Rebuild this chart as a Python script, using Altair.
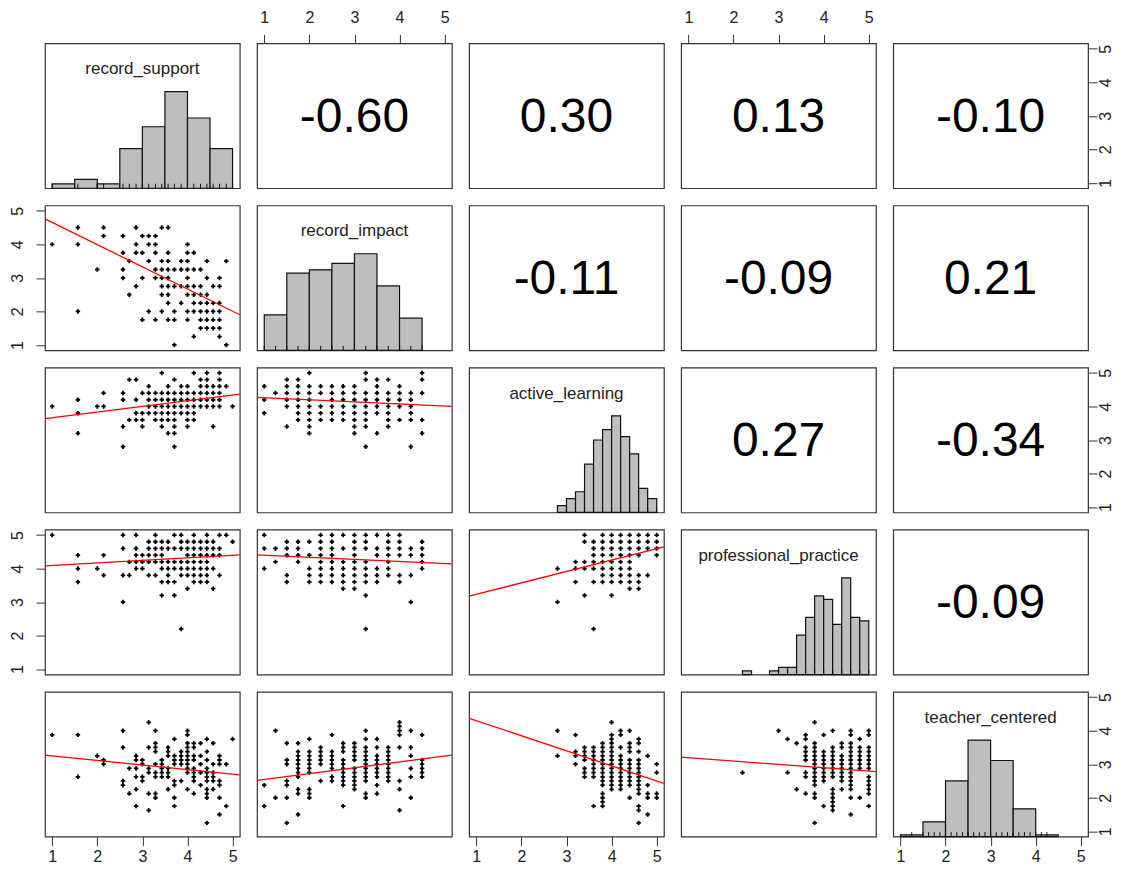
import altair as alt
import pandas as pd

FONT = "Liberation Sans, Arial, sans-serif"
W, H = 195, 145
GAP = 17.25
DOMAIN = [0.84, 5.16]
TICKS = [1, 2, 3, 4, 5]

var_names = ["record_support", "record_impact", "active_learning",
             "professional_practice", "teacher_centered"]

# correlations shown in the upper triangle: (row, col, text)
corr_cells = [(0, 1, "-0.60"), (0, 2, "0.30"), (0, 3, "0.13"), (0, 4, "-0.10"),
              (1, 2, "-0.11"), (1, 3, "-0.09"), (1, 4, "0.21"),
              (2, 3, "0.27"), (2, 4, "-0.34"), (3, 4, "-0.09")]

# histograms on the diagonal
support_breaks = [1.0, 1.5, 2.0, 2.5, 3.0, 3.5, 4.0, 4.5, 5.0]
support_counts = [2, 4, 2, 18, 28, 44, 32, 18]
impact_breaks = [1.0, 1.5, 2.0, 2.5, 3.0, 3.5, 4.0, 4.5]
impact_counts = [11, 24, 25, 27, 30, 20, 10]
active_breaks = [2.8, 3.0, 3.2, 3.4, 3.6, 3.8, 4.0, 4.2, 4.4, 4.6, 4.8, 5.0]
active_counts = [2, 4, 6, 14, 21, 24, 28, 22, 17, 7, 4]
practice_breaks = [2.2, 2.4, 2.6, 2.8, 3.0, 3.2, 3.4, 3.6, 3.8, 4.0, 4.2, 4.4, 4.6, 4.8, 5.0]
practice_counts = [1, 0, 0, 1, 2, 2, 11, 16, 22, 21, 14, 27, 16, 15]
teacher_breaks = [1.0, 1.5, 2.0, 2.5, 3.0, 3.5, 4.0, 4.5]
teacher_counts = [1, 8, 30, 52, 41, 15, 1]

# scatter panels (lower triangle)
# record_impact (key) vs record_support (list)
support_impact = {
    4.50: [1.57, 2.14, 2.86, 3.43, 3.57],
    4.25: [2.14, 2.57, 3.00, 3.14, 3.29],
    4.00: [1.00, 1.57, 2.86, 3.14, 3.29, 4.00],
    3.75: [2.57, 2.86, 3.00, 3.29, 3.57, 4.00, 4.14],
    3.50: [2.71, 3.14, 3.43, 3.57, 3.86, 4.00, 4.43, 4.86],
    3.25: [2.00, 2.57, 3.29, 3.43, 3.57, 3.71, 3.86, 4.00, 4.14, 4.29],
    3.00: [2.57, 3.00, 3.29, 3.43, 3.57, 4.00, 4.43, 4.71],
    2.75: [2.86, 3.43, 3.57, 3.71, 3.86, 4.00, 4.14, 4.29, 4.57, 4.71],
    2.50: [2.71, 3.43, 3.57, 4.00, 4.14, 4.29, 4.43],
    2.25: [3.57, 3.86, 4.14, 4.29, 4.43, 4.57, 4.71],
    2.00: [1.57, 3.14, 3.43, 3.71, 4.00, 4.14, 4.29, 4.43, 4.57, 4.71],
    1.75: [3.00, 3.29, 3.57, 3.71, 4.00, 4.29, 4.43, 4.57, 4.71],
    1.50: [4.29, 4.43, 4.57, 4.71],
    1.25: [4.14, 4.71],
    1.00: [3.71, 4.86],
}
# active_learning (key) vs record_support (list)
support_active = {
    5.0: [3.43, 4.14, 4.43, 4.71],
    4.8: [2.71, 2.86, 3.71, 4.29, 4.43, 4.71],
    4.6: [3.14, 3.57, 3.86, 4.00, 4.29, 4.43, 4.57, 4.71, 4.86],
    4.4: [2.14, 2.57, 3.00, 3.14, 3.29, 3.43, 3.57, 3.71, 3.86, 4.00, 4.14, 4.29, 4.43, 4.57, 4.71],
    4.2: [1.57, 2.57, 2.86, 3.14, 3.29, 3.43, 3.57, 3.71, 3.86, 4.00, 4.14, 4.29, 4.43, 4.57, 4.71],
    4.0: [1.00, 2.00, 2.14, 3.14, 3.29, 3.43, 3.57, 3.71, 3.86, 4.00, 4.14, 4.29, 4.43, 4.57, 4.71, 5.00],
    3.8: [1.57, 2.86, 3.00, 3.14, 3.29, 3.43, 3.57, 3.71, 3.86, 4.00, 4.14],
    3.6: [2.71, 2.86, 3.00, 3.29, 3.43, 3.57, 3.71, 4.00, 4.14],
    3.4: [2.57, 3.00, 3.43, 3.71, 4.00, 4.57],
    3.2: [1.57, 3.57, 3.71],
    2.8: [2.57, 3.71],
}
# record_impact (key) vs active_learning (list)
impact_active = {
    1.00: [4.6, 4.2, 3.8],
    1.25: [4.4],
    1.50: [4.8, 4.6, 4.4, 4.2, 4.0, 3.4],
    1.75: [4.8, 4.6, 4.4, 4.2, 4.0, 3.8, 3.6],
    2.00: [5.0, 4.6, 4.4, 4.2, 4.0, 3.8, 3.6, 3.4, 3.2],
    2.25: [4.6, 4.4, 4.0, 3.8, 3.6],
    2.50: [4.6, 4.4, 4.2, 4.0, 3.8, 3.6],
    2.75: [4.6, 4.4, 4.2, 4.0, 3.8, 3.6],
    3.00: [4.6, 4.4, 4.2, 4.0, 3.8, 3.6, 3.4, 3.2],
    3.25: [5.0, 4.8, 4.4, 4.2, 4.0, 3.8, 3.6, 3.4, 2.8],
    3.50: [4.8, 4.6, 4.4, 4.2, 4.0, 3.8, 3.2],
    3.75: [4.8, 4.4, 4.2, 4.0, 3.8, 3.6, 3.4],
    4.00: [4.6, 4.4, 4.2, 4.0, 3.6],
    4.25: [4.4, 4.2, 4.0, 3.8, 3.6, 2.8],
    4.50: [5.0, 4.8, 4.4, 3.6, 3.2],
}
# professional_practice (key) vs record_support (list)
support_practice = {
    5.0: [1.00, 2.57, 2.86, 3.29, 3.71, 3.86, 4.14, 4.43, 4.71, 4.86],
    4.8: [3.14, 3.29, 3.43, 3.57, 3.86, 4.00, 4.14, 4.29, 4.43, 4.57, 5.00],
    4.6: [2.57, 2.86, 3.14, 3.29, 3.43, 3.57, 3.71, 3.86, 4.00, 4.14, 4.29, 4.43, 4.57, 4.71],
    4.4: [1.57, 2.14, 2.86, 3.00, 3.14, 3.29, 3.43, 4.00, 4.14, 4.29, 4.43, 4.57, 4.71],
    4.2: [2.71, 2.86, 3.00, 3.14, 3.29, 3.43, 3.57, 3.71, 3.86, 4.00, 4.14, 4.29, 4.43],
    4.0: [1.57, 2.00, 2.86, 3.00, 3.43, 3.57, 3.71, 3.86, 4.00, 4.14, 4.29, 4.43, 4.57],
    3.8: [2.14, 2.57, 2.71, 3.14, 3.29, 3.57, 3.86, 4.00, 4.14, 4.29, 4.43, 4.71],
    3.6: [1.57, 3.43, 3.57, 3.71, 4.14, 4.29, 4.43],
    3.4: [4.00, 4.57],
    3.2: [3.43, 3.71],
    3.0: [2.57],
    2.2: [3.86],
}
# record_impact (key) vs professional_practice (list)
impact_practice = {
    1.00: [5.0, 4.6, 4.0],
    1.25: [4.6, 4.2],
    1.50: [4.8, 4.6, 4.4, 3.8, 3.6],
    1.75: [4.8, 4.6, 4.4, 4.2],
    2.00: [4.8, 4.4, 4.0, 3.8, 3.6],
    2.25: [5.0, 4.8, 4.6, 4.4, 4.2, 4.0, 3.8, 3.6],
    2.50: [5.0, 4.8, 4.6, 4.4, 4.2, 4.0, 3.8, 3.6],
    2.75: [5.0, 4.6, 4.2, 4.0, 3.8, 3.6, 3.4],
    3.00: [5.0, 4.8, 4.6, 4.4, 4.2, 4.0, 3.8, 3.6, 3.4],
    3.25: [5.0, 4.8, 4.6, 4.2, 4.0, 3.8, 3.6, 3.2, 2.2],
    3.50: [5.0, 4.6, 4.4, 4.0, 3.8, 3.6],
    3.75: [5.0, 4.8, 4.6, 4.4, 4.2, 4.0, 3.8],
    4.00: [5.0, 4.8, 4.6, 4.4, 3.8, 3.6],
    4.25: [4.6, 4.4, 3.8, 3.0],
    4.50: [4.8, 4.6, 4.4, 4.2, 4.0],
}
# professional_practice (key) vs active_learning (list)
active_practice = {
    5.0: [3.4, 3.8, 4.0, 4.2, 4.4, 4.6, 4.8, 5.0],
    4.8: [3.4, 3.6, 3.8, 4.0, 4.2, 4.4, 4.6, 4.8, 5.0],
    4.6: [3.6, 3.8, 4.0, 4.2, 4.4, 4.6, 4.8, 5.0],
    4.4: [3.6, 3.8, 4.0, 4.2, 4.4, 4.6, 5.0],
    4.2: [3.2, 3.4, 3.6, 3.8, 4.0, 4.2, 4.4],
    4.0: [2.8, 3.2, 3.4, 3.6, 3.8, 4.0, 4.2, 4.4],
    3.8: [3.8, 4.0, 4.2, 4.4, 4.6, 4.8],
    3.6: [3.2, 3.6, 3.8, 4.0, 4.2, 4.4, 4.6],
    3.4: [4.4, 4.6],
    3.2: [3.4, 4.0],
    3.0: [2.8],
    2.2: [3.6],
}
# record_support (key) vs teacher_centered (list)
support_teacher = {
    1.00: [3.875],
    1.57: [3.875, 2.625],
    2.00: [3.25],
    2.14: [3.125, 3.0],
    2.57: [4.0, 3.5, 2.5, 2.375],
    2.71: [2.875, 2.125],
    2.86: [3.25, 3.125, 2.875, 2.625, 2.25, 1.75],
    3.00: [3.125, 3.0, 2.625, 2.5],
    3.14: [4.25, 3.5, 2.875, 2.75, 2.125, 1.625],
    3.29: [4.0, 3.625, 3.5, 3.375, 3.0, 2.75, 2.625, 2.125, 2.0],
    3.43: [3.125, 3.0, 2.875, 2.75, 2.625],
    3.57: [3.5, 3.375, 3.25, 2.875, 2.75, 2.625, 2.25],
    3.71: [3.75, 3.25, 3.125, 3.0, 2.5, 2.375, 2.0, 1.75],
    3.86: [3.375, 3.25, 3.125, 3.0, 2.5],
    4.00: [4.0, 3.875, 3.625, 3.5, 3.375, 3.25, 3.125, 3.0, 2.875, 2.75, 2.25],
    4.14: [3.625, 3.5, 3.25, 3.125, 2.875, 2.75, 2.625, 2.5, 2.125],
    4.29: [3.625, 3.25, 3.0, 2.75, 2.375],
    4.43: [3.75, 3.375, 3.125, 2.875, 2.75, 2.625, 2.5, 2.25, 2.125, 2.0, 1.25],
    4.57: [3.625, 3.0, 2.75, 2.625, 2.5, 2.25],
    4.71: [3.25, 3.125, 3.0, 2.5, 2.375, 2.0, 1.5],
    4.86: [3.0, 1.75],
    5.00: [3.75],
}
# record_impact (key) vs teacher_centered (list)
impact_teacher = {
    1.00: [2.375, 1.75],
    1.25: [4.0, 2.0],
    1.50: [3.625, 3.125, 3.0, 2.5, 2.375, 2.0, 1.25],
    1.75: [3.625, 3.375, 3.25, 3.125, 3.0, 2.875, 2.75, 2.625, 2.25, 2.125, 1.5],
    2.00: [3.75, 3.375, 3.25, 3.125, 3.0, 2.875, 2.75, 2.25, 2.125, 2.0],
    2.25: [3.5, 3.375, 3.25, 3.125, 3.0, 2.5],
    2.50: [3.875, 3.375, 3.25, 3.125, 3.0, 2.875, 2.625, 2.5],
    2.75: [3.625, 3.5, 3.375, 3.125, 3.0, 2.875, 2.75, 2.625, 2.5, 2.375, 1.75],
    3.00: [3.625, 3.5, 3.375, 3.25, 3.125, 2.875, 2.75, 2.625, 2.5, 2.375, 2.25],
    3.25: [4.0, 3.75, 3.5, 3.375, 3.25, 3.125, 3.0, 2.875, 2.75, 2.625, 2.5, 2.125, 2.0],
    3.50: [3.75, 3.5, 3.25, 3.125, 3.0, 2.875, 2.75, 2.625, 2.375, 2.125],
    3.75: [3.5, 3.375, 3.25, 3.125, 3.0, 2.875, 2.75, 2.625, 2.5],
    4.00: [4.25, 4.125, 4.0, 3.875, 3.5, 2.5, 2.25, 1.625],
    4.25: [4.0, 3.5, 3.25, 2.875, 2.625, 2.0],
    4.50: [3.875, 3.125, 3.0, 2.875, 2.75, 2.625],
}
# active_learning (key) vs teacher_centered (list)
active_teacher = {
    2.8: [4.0, 3.25],
    3.2: [3.875, 3.375, 3.25, 3.0],
    3.4: [3.5, 3.375, 3.25, 3.125, 2.875, 2.75, 2.625],
    3.6: [3.5, 3.375, 3.25, 3.125, 3.0, 2.875, 2.75, 2.625, 1.75],
    3.8: [3.625, 3.5, 3.375, 3.25, 3.125, 3.0, 2.875, 2.75, 2.625, 2.5, 2.375, 2.125, 2.0, 1.875, 1.75],
    4.0: [4.25, 3.875, 3.75, 3.625, 3.5, 3.375, 3.25, 3.125, 3.0, 2.875, 2.75, 2.625, 2.5, 2.375, 2.25],
    4.2: [4.0, 3.875, 3.5, 3.25, 3.125, 3.0, 2.875, 2.75, 2.625, 2.5, 2.375, 2.25],
    4.4: [4.0, 3.625, 3.5, 3.375, 3.125, 3.0, 2.875, 2.75, 2.625, 2.5, 2.375, 2.0],
    4.6: [3.75, 3.625, 3.375, 3.125, 3.0, 2.875, 2.75, 2.625, 2.5, 2.375, 2.25, 2.125, 1.75, 1.625, 1.25],
    4.8: [3.25, 2.375, 2.125, 2.0, 1.5],
    5.0: [3.0, 2.75, 2.125, 2.0],
}
# professional_practice (key) vs teacher_centered (list)
practice_teacher = {
    2.2: [2.75],
    3.0: [4.0],
    3.2: [3.75, 2.75],
    3.4: [3.625, 2.25],
    3.6: [3.875, 3.75, 3.5, 3.375, 3.25, 3.125, 2.75, 2.625, 2.125],
    3.8: [4.25, 3.625, 3.5, 3.375, 3.25, 3.125, 3.0, 2.875, 2.75, 2.625, 2.5, 2.375, 2.125, 2.0, 1.25],
    4.0: [3.875, 3.375, 3.25, 3.125, 3.0, 2.875, 2.75, 2.625, 2.5, 1.75],
    4.2: [4.0, 3.5, 3.375, 3.25, 3.125, 3.0, 2.875, 2.75, 2.625, 2.25, 2.125, 2.0, 1.875, 1.75, 1.625],
    4.4: [3.625, 3.5, 3.25, 3.125, 3.0, 2.875, 2.75, 2.625, 2.5, 2.25],
    4.6: [4.0, 3.875, 3.625, 3.5, 3.375, 3.25, 3.125, 3.0, 2.875, 2.75, 2.625, 2.5, 2.375, 2.25, 2.0, 1.5],
    4.8: [3.75, 3.5, 3.375, 3.25, 3.125, 3.0, 2.875, 2.0],
    5.0: [4.0, 3.875, 3.5, 3.375, 3.25, 3.125, 3.0, 2.875, 2.625, 2.5, 2.375, 2.25, 2.125, 1.75],
}

# fitted (lm) lines: y at the left and right edges of each panel
fit_left_x, fit_right_x = 0.84, 5.16
fit_lines = {
    (1, 0): (4.76, 1.90),
    (2, 0): (3.64, 4.37),
    (2, 1): (4.27, 4.00),
    (3, 0): (4.08, 4.41),
    (3, 1): (4.41, 4.14),
    (3, 2): (3.18, 4.65),
    (4, 0): (3.27, 2.68),
    (4, 1): (2.52, 3.27),
    (4, 2): (4.37, 2.43),
    (4, 3): (3.21, 2.78),
}


def from_y_key(d):
    return pd.DataFrame([{"x": x, "y": y} for y, xs in d.items() for x in xs])


def from_x_key(d):
    return pd.DataFrame([{"x": x, "y": y} for x, ys in d.items() for y in ys])


scatter = {
    (1, 0): from_y_key(support_impact),
    (2, 0): from_y_key(support_active),
    (2, 1): from_x_key(impact_active),
    (3, 0): from_y_key(support_practice),
    (3, 1): from_x_key(impact_practice),
    (3, 2): from_y_key(active_practice),
    (4, 0): from_x_key(support_teacher),
    (4, 1): from_x_key(impact_teacher),
    (4, 2): from_x_key(active_teacher),
    (4, 3): from_x_key(practice_teacher),
}

hist = {
    0: (support_breaks, support_counts),
    1: (impact_breaks, impact_counts),
    2: (active_breaks, active_counts),
    3: (practice_breaks, practice_counts),
    4: (teacher_breaks, teacher_counts),
}

# rug values: the distinct values of each variable seen in the scatter panels
rug_values = {i: set() for i in range(5)}
for (r, c), df in scatter.items():
    rug_values[c].update(df["x"].tolist())
    rug_values[r].update(df["y"].tolist())

AX = dict(values=TICKS, tickSize=9, tickColor="#333", tickWidth=1, domain=False, grid=False,
          labelFont=FONT, labelFontSize=16, labelColor="#222", labelFlush=False,
          labelOverlap=False, labelAlign="center", labelBaseline="middle", title=None)


def make_axis(orient):
    if orient == "top":
        return alt.Axis(orient="top", labelAngle=0, labelPadding=17, **AX)
    if orient == "bottom":
        return alt.Axis(orient="bottom", labelAngle=0, labelPadding=11, **AX)
    if orient == "left":
        return alt.Axis(orient="left", labelAngle=-90, labelPadding=18, **AX)
    return alt.Axis(orient="right", labelAngle=-90, labelPadding=8, **AX)


x_axes = {(0, 1): "top", (0, 3): "top", (4, 0): "bottom", (4, 2): "bottom", (4, 4): "bottom"}
y_axes = {(1, 0): "left", (3, 0): "left", (0, 4): "right", (2, 4): "right", (4, 4): "right"}

ticks_df = pd.DataFrame({"t": TICKS})


def sc():
    return alt.Scale(domain=DOMAIN, nice=False, zero=False)


panels = []
for r in range(5):
    for c in range(5):
        layers = []
        xa = make_axis(x_axes[(r, c)]) if (r, c) in x_axes else None
        ya = make_axis(y_axes[(r, c)]) if (r, c) in y_axes else None
        if xa is not None or ya is not None:
            layers.append(
                alt.Chart(ticks_df).mark_point(opacity=0).encode(
                    x=alt.X("t:Q", scale=sc(), axis=xa),
                    y=alt.Y("t:Q", scale=sc(), axis=ya),
                )
            )
        if r == c:
            breaks, counts = hist[r]
            hdf = pd.DataFrame({"start": breaks[:-1], "end": breaks[1:], "count": counts})
            hdf = hdf[hdf["count"] > 0]
            bars = alt.Chart(hdf).transform_joinaggregate(
                maxc="max(count)"
            ).transform_calculate(
                h="datum.count / datum.maxc"
            ).mark_rect(fill="#BEBEBE", stroke="#111", strokeWidth=1.2).encode(
                x=alt.X("start:Q", scale=sc(), axis=None),
                x2="end:Q",
                y=alt.Y("h:Q", scale=alt.Scale(domain=[0, 1.5], nice=False, zero=True), axis=None),
                y2=alt.datum(0),
            )
            rug = alt.Chart(pd.DataFrame({"v": sorted(rug_values[r])})).mark_rule(
                color="#111", strokeWidth=1
            ).encode(
                x=alt.X("v:Q", scale=sc(), axis=None),
                y=alt.value(H),
                y2=alt.value(H - 4.5),
            )
            label = alt.Chart(pd.DataFrame({"name": [var_names[r]]})).mark_text(
                font=FONT, fontSize=17, color="#222", baseline="middle", align="center"
            ).encode(text="name:N", x=alt.value(W / 2), y=alt.value(26))
            layers += [bars, rug, label]
        elif r < c:
            txt = [t for (rr, cc, t) in corr_cells if rr == r and cc == c][0]
            layers.append(
                alt.Chart(pd.DataFrame({"r": [txt]})).mark_text(
                    font=FONT, fontSize=48, color="black", baseline="middle", align="center"
                ).encode(text="r:N", x=alt.value(W / 2), y=alt.value(H / 2 + 2))
            )
        else:
            pts = alt.Chart(scatter[(r, c)]).mark_point(
                shape="cross", filled=True, size=20, color="black", opacity=1
            ).encode(
                x=alt.X("x:Q", scale=sc(), axis=None),
                y=alt.Y("y:Q", scale=sc(), axis=None),
            )
            y0, y1 = fit_lines[(r, c)]
            ldf = pd.DataFrame({"x": [fit_left_x, fit_right_x], "y": [y0, y1]})
            line = alt.Chart(ldf).mark_line(color="red", strokeWidth=1.3, clip=True).encode(
                x=alt.X("x:Q", scale=sc(), axis=None),
                y=alt.Y("y:Q", scale=sc(), axis=None),
            )
            layers += [pts, line]
        panel = alt.layer(*layers).resolve_scale(x="independent", y="independent").properties(
            width=W, height=H
        )
        panels.append(panel)

chart = alt.concat(*panels, columns=5, spacing=GAP, bounds="flush").properties(
    padding={"left": 1, "top": 0, "right": 1, "bottom": 1}, background="white"
).configure_view(stroke="#333", strokeWidth=1.2)

chart.save("out.html", embed_options={"renderer": "svg", "actions": False})
